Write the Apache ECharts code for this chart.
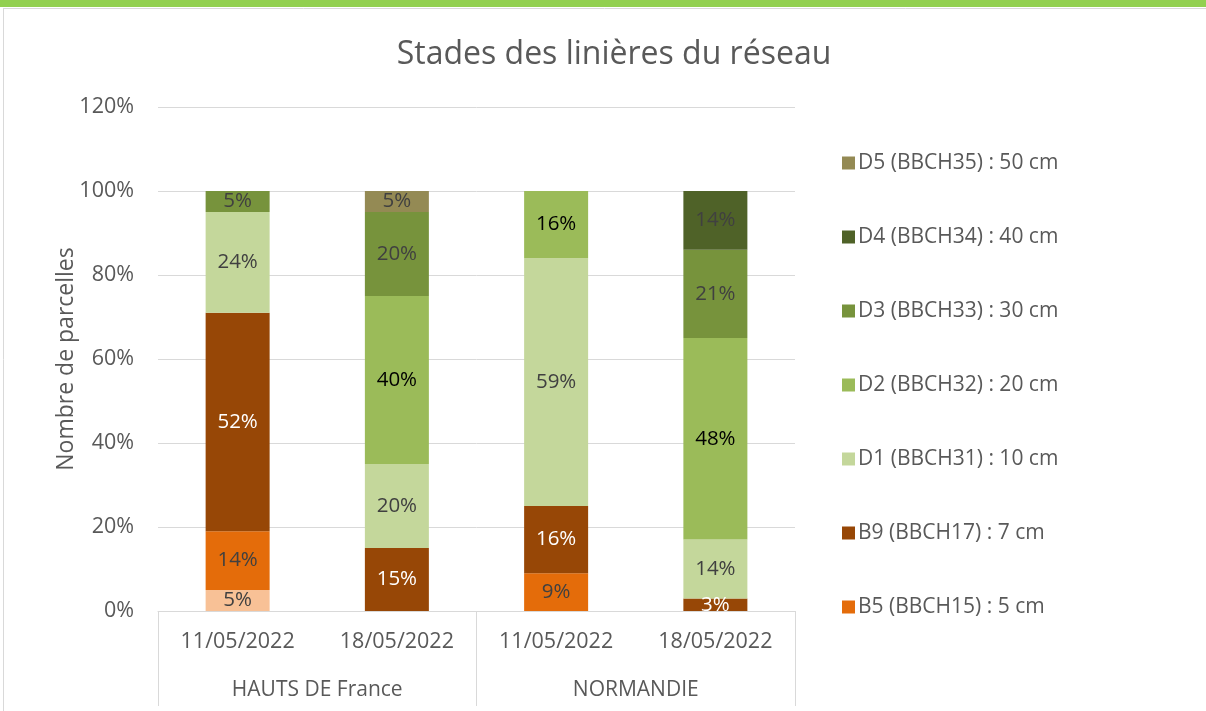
<!DOCTYPE html>
<html><head><meta charset="utf-8">
<script src="https://cdn.jsdelivr.net/npm/echarts@6/dist/echarts.min.js"></script>
<style>html,body{margin:0;padding:0;background:#fff}#c{width:1206px;height:711px}</style>
</head><body><div id="c"></div>
<script>
const dates = ['11/05/2022','18/05/2022','11/05/2022','18/05/2022'];
const regions = ['HAUTS DE France','NORMANDIE'];
const catKeys = ['HDF 11/05/2022','HDF 18/05/2022','NOR 11/05/2022','NOR 18/05/2022'];
const yTicks = [0,20,40,60,80,100,120];
// series values (% of plots), bottom to top
const B3 = [5, null, null, null];
const B5 = [14, null, 9, null];
const B9 = [52, 15, 16, 3];
const D1 = [24, 20, 59, 14];
const D2 = [null, 40, 16, 48];
const D3 = [5, 20, null, 21];
const D4 = [null, null, null, 14];
const D5 = [null, 5, null, null];
const seriesNames = ['B3 (BBCH13) : 3 cm','B5 (BBCH15) : 5 cm','B9 (BBCH17) : 7 cm','D1 (BBCH31) : 10 cm','D2 (BBCH32) : 20 cm','D3 (BBCH33) : 30 cm','D4 (BBCH34) : 40 cm','D5 (BBCH35) : 50 cm'];
const seriesData = [B3,B5,B9,D1,D2,D3,D4,D5];
const colors = ['#F8C196','#E46C0A','#974706','#C4D79B','#9BBB59','#77933C','#4F6228','#948A54'];
const labelColors = ['#404040','#404040','#ffffff','#404040','#000000','#404040','#404040','#404040'];

const FONT = 'Open Sans';
const chart = echarts.init(document.getElementById('c'));
chart.setOption({
  animation:false,
  textStyle:{fontFamily:FONT},
  title:{text:'Stades des linières du réseau',left:609,textAlign:'center',top:34,
    textStyle:{fontFamily:FONT,fontSize:32,fontWeight:'normal',color:'#595959'}},
  graphic:[
    {type:'rect',shape:{x:0,y:0,width:1206,height:7},style:{fill:'#92D050'}},
    {type:'line',shape:{x1:3,y1:8.5,x2:1206,y2:8.5},style:{stroke:'#d9d9d9',lineWidth:1}},
    {type:'line',shape:{x1:3.5,y1:8,x2:3.5,y2:711},style:{stroke:'#d9d9d9',lineWidth:1}}
  ],
  legend:{orient:'vertical',left:837,top:147,itemWidth:13,itemHeight:13,itemGap:52,
    icon:'rect',
    data:seriesNames.slice(1).reverse(),
    textStyle:{fontFamily:FONT,fontSize:21,color:'#595959',lineHeight:22,padding:[0,0,0,-2]}},
  grid:{left:158,right:411,top:107,bottom:100},
  xAxis:[
    {type:'category',data:catKeys,position:'bottom',
      axisLine:{show:true,lineStyle:{color:'#d9d9d9',width:1}},
      axisTick:{show:false},
      axisLabel:{margin:20,fontSize:21.5,color:'#595959',fontFamily:FONT,
        formatter:(v,i)=>dates[i]}},
    {type:'category',data:regions,position:'bottom',
      axisLine:{show:false},
      axisTick:{show:true,length:95,interval:0,lineStyle:{color:'#d9d9d9',width:1}},
      axisLabel:{margin:69,fontSize:21,color:'#595959',fontFamily:FONT}}
  ],
  yAxis:{type:'value',min:yTicks[0],max:yTicks[yTicks.length-1],interval:20,
    name:'Nombre de parcelles',nameLocation:'middle',nameGap:80,nameMoveOverlap:false,
    nameTextStyle:{fontFamily:FONT,fontSize:23,color:'#595959'},
    axisLine:{show:false},axisTick:{show:false},
    axisLabel:{formatter:'{value}%',fontSize:21.5,color:'#595959',margin:24,fontFamily:FONT},
    splitLine:{lineStyle:{color:'#d9d9d9',width:1}}},
  series:seriesData.map((d,i)=>({
    name:seriesNames[i],type:'bar',stack:'s',data:d,barWidth:64,xAxisIndex:0,
    itemStyle:{color:colors[i]},
    label:{show:true,position:'inside',formatter:'{c}%',fontSize:20.5,color:labelColors[i],fontFamily:FONT}
  }))
});
</script></body></html>
